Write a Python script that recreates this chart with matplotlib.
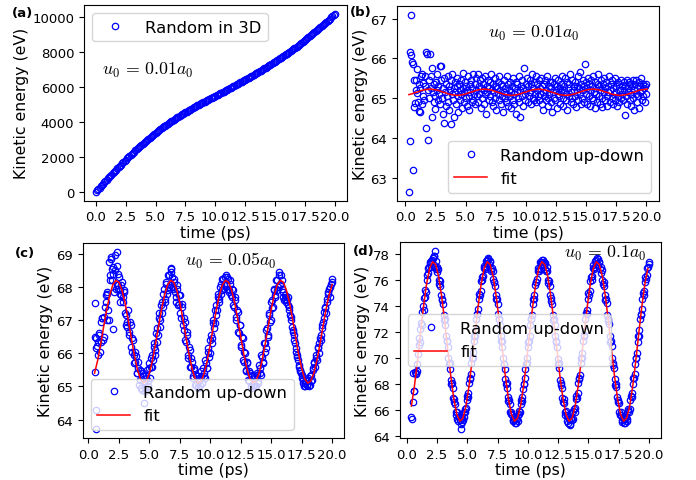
import numpy as np
import matplotlib
matplotlib.use("Agg")
import matplotlib.pyplot as plt

plt.rcParams['mathtext.fontset'] = 'cm'
plt.rcParams['font.family'] = ['DejaVu Sans']

# ---------------- data ----------------
# (a) Random in 3D, t = 0.0 .. 20.0 step 0.1
a_t0, a_dt = 0.0, 0.1
a_ke = [0, 77, 154, 232, 309, 386, 461, 536, 612, 687, 762, 836, 909, 983, 1056, 1130,
        1202, 1273, 1345, 1416, 1488, 1558, 1628, 1698, 1768, 1838, 1906, 1973, 2041, 2108,
        2176, 2240, 2305, 2369, 2434, 2498, 2560, 2621, 2683, 2744, 2806, 2864, 2923, 2981,
        3040, 3098, 3154, 3209, 3265, 3320, 3376, 3429, 3481, 3534, 3586, 3639, 3689, 3739,
        3788, 3838, 3888, 3935, 3982, 4029, 4076, 4123, 4167, 4211, 4256, 4300, 4344, 4385,
        4427, 4468, 4510, 4551, 4591, 4630, 4670, 4709, 4749, 4787, 4826, 4864, 4903, 4941,
        4979, 5016, 5054, 5091, 5129, 5165, 5202, 5238, 5275, 5311, 5347, 5382, 5418, 5453,
        5489, 5524, 5560, 5595, 5631, 5666, 5702, 5738, 5775, 5811, 5847, 5884, 5921, 5958,
        5995, 6032, 6070, 6108, 6145, 6183, 6221, 6260, 6298, 6337, 6375, 6414, 6454, 6493,
        6533, 6572, 6612, 6652, 6693, 6733, 6774, 6814, 6856, 6897, 6939, 6980, 7022, 7064,
        7107, 7149, 7192, 7234, 7278, 7321, 7365, 7408, 7452, 7497, 7542, 7586, 7631, 7676,
        7723, 7770, 7816, 7863, 7910, 7958, 8007, 8055, 8104, 8152, 8202, 8253, 8303, 8354,
        8404, 8456, 8508, 8560, 8612, 8664, 8721, 8778, 8836, 8893, 8950, 9008, 9066, 9124,
        9182, 9240, 9300, 9360, 9420, 9480, 9540, 9602, 9664, 9726, 9788, 9850, 9916, 9982,
        10048, 10114, 10180]

# (b) Random up-down, u0 = 0.01 a0, t = 0.30 .. 20.00 step 0.05
b_t0, b_dt = 0.30, 0.05
b_ke = [62.65, 66.15, 63.92, 67.10, 66.09, 65.90, 63.20, 65.87, 64.77, 65.45, 64.89, 65.45,
        65.20, 65.14, 65.73, 64.90, 65.35, 64.68, 65.25, 64.66, 65.56, 64.85, 65.60, 65.05,
        65.39, 64.95, 65.30, 65.55, 66.16, 64.25, 66.12, 63.96, 65.20, 65.45, 65.00,
        66.10, 65.25, 65.55, 64.54, 65.77, 65.15, 64.90, 65.35, 65.05, 64.74, 65.40, 65.20, 65.60, 64.95, 65.30, 65.10, 65.81, 64.85, 65.45, 65.81,
        65.00, 65.25, 64.60, 65.50, 64.39, 65.15, 65.35, 64.80, 65.05, 65.55, 64.90, 65.30, 64.70, 65.20, 65.45, 64.35, 65.10, 65.60, 64.95, 65.25,
        64.52, 65.40, 65.15, 64.85, 65.30, 65.50, 64.65, 65.05, 65.35, 65.20, 64.95, 65.45, 65.10, 64.75, 65.25, 65.64, 64.90, 65.15, 65.40, 65.00,
        65.30, 64.80, 65.20, 65.55, 65.05, 64.70, 65.35, 65.15, 65.45, 64.90, 65.25, 65.60, 64.95, 65.10, 65.35, 64.85, 65.50, 65.20, 65.05, 65.60,
        64.90, 65.30, 65.10, 65.45, 64.75, 65.25, 65.50, 65.00, 65.35, 64.85, 65.20, 65.55, 65.10, 64.60, 65.30, 65.15, 65.45, 64.95, 65.25, 65.40,
        65.05, 65.60, 64.90, 65.20, 65.35, 64.80, 65.15, 65.50, 65.00, 65.30, 64.70, 65.25, 65.40, 65.10, 64.95, 65.55, 65.20, 64.85, 65.35, 65.05,
        65.30, 64.65, 65.15, 65.45, 65.00, 65.25, 64.90, 65.55, 65.10, 64.80, 65.35, 65.20, 65.05, 65.40, 64.75, 65.15, 65.30, 64.95, 65.50, 65.10,
        64.85, 65.25, 65.40, 64.60, 65.15, 65.35, 65.00, 65.55, 64.90, 65.20, 64.52, 65.30, 65.45, 65.05, 64.80, 65.25, 65.75, 65.10, 64.95, 65.35,
        65.20, 65.50, 64.90, 65.30, 65.05, 65.45, 65.15, 64.85, 65.35, 65.60, 65.00, 65.25, 64.95, 65.40, 65.10, 65.55, 64.90, 65.20, 65.35, 65.05,
        65.45, 64.95, 65.25, 65.10, 65.50, 64.85, 65.30, 65.15, 64.70, 65.35, 65.05, 65.45, 64.95, 65.20, 65.55, 65.00, 64.80, 65.30, 65.10, 65.40,
        64.90, 65.25, 65.40, 64.65, 65.15, 65.35, 65.00, 65.50, 64.95, 65.20, 65.30, 64.75, 65.10, 65.45, 65.05, 65.25, 64.85, 65.35, 65.15, 65.55,
        65.00, 64.80, 65.30, 65.20, 65.50, 64.95, 65.10, 65.40, 64.70, 65.25, 65.05, 65.35, 65.60, 64.90, 65.15, 65.45, 65.00, 64.85, 65.30, 65.20,
        65.40, 65.05, 64.78, 65.30, 65.15, 65.55, 64.95, 65.25, 65.65, 65.10, 64.85, 65.35, 65.00, 65.45, 65.20, 64.90, 65.30, 65.86, 65.10, 65.40,
        64.85, 65.25, 65.50, 65.05, 65.35, 64.80, 65.20, 65.45, 65.00, 65.30, 64.95, 65.55, 65.15, 64.75, 65.40, 65.10, 65.25, 64.90, 65.35, 65.60,
        65.05, 65.30, 64.85, 65.20, 65.45, 65.00, 64.78, 65.35, 65.15, 65.50, 64.95, 65.25, 65.40, 65.05, 64.80, 65.30, 65.15, 65.55, 64.90, 65.20,
        65.35, 65.00, 65.45, 64.85, 65.25, 65.10, 65.50, 64.95, 65.30, 65.15, 64.80, 65.40, 65.05, 65.35, 64.90, 65.20, 65.45, 65.00, 65.30, 65.10,
        64.95, 65.40, 65.20, 64.58, 65.30, 65.05, 65.45, 64.85, 65.25, 65.15, 65.40, 64.95, 65.35, 65.10, 64.80, 65.30, 65.45, 65.00, 65.20, 64.70,
        65.35, 65.10, 65.45, 64.90, 65.25, 65.05, 65.40, 64.75, 65.30, 65.15, 65.50, 64.95, 65.20, 65.35, 65.05, 65.25, 64.90, 65.30, 65.10, 65.35]
# fit for (b), t = 0.30 .. 20.05 step 0.25
b_fit_t0, b_fit_dt = 0.30, 0.25
b_fit = [65.09, 65.11, 65.14, 65.16, 65.19, 65.21, 65.22, 65.23, 65.22, 65.21, 65.19, 65.16, 65.14, 65.11, 65.09, 65.08, 65.07, 65.08,
         65.09, 65.11, 65.14, 65.16, 65.19, 65.21, 65.22, 65.23, 65.22, 65.21, 65.19, 65.16, 65.14, 65.11, 65.09, 65.08, 65.07, 65.08,
         65.09, 65.11, 65.14, 65.16, 65.19, 65.21, 65.22, 65.23, 65.22, 65.21, 65.19, 65.16, 65.14, 65.11, 65.09, 65.08, 65.07, 65.08,
         65.09, 65.11, 65.14, 65.16, 65.19, 65.21, 65.22, 65.23, 65.22, 65.21, 65.19, 65.16, 65.14, 65.11, 65.09, 65.08, 65.07, 65.08,
         65.09, 65.11, 65.14, 65.16, 65.19, 65.21, 65.22, 65.23]

# (c) Random up-down, u0 = 0.05 a0, t = 0.5 .. 20.0 step 0.1
c_t0, c_dt = 0.5, 0.1
c_ke = [65.43, 66.45, 66.22, 65.95, 66.55, 66.35, 67.05, 66.40, 67.08, 67.55, 67.80, 67.30, 68.75, 68.20, 68.55, 68.40, 67.85, 68.50,
        68.62, 67.95, 68.30, 67.80, 68.05, 67.70, 67.92, 67.20, 66.85, 66.80, 66.65, 66.95, 66.20, 66.45, 65.95, 65.75, 65.92, 65.40,
        65.55, 65.20, 65.45, 64.90, 65.30, 64.85, 65.25, 65.50, 65.15, 65.70, 65.60, 65.95, 65.80, 66.30, 66.10, 66.75, 66.55, 67.20,
        67.00, 67.55, 67.40, 67.95, 67.65, 68.15, 67.90, 68.35, 68.05,
        68.55, 68.00, 68.25, 67.85, 67.55, 68.05, 67.50, 67.75, 67.05, 67.40, 66.70, 66.95, 66.35, 66.55, 65.85, 66.10, 65.60, 65.75,
        65.25, 65.50, 65.05, 65.30, 65.00, 65.20, 65.45, 65.10, 65.55, 65.30, 65.80, 65.55, 66.05, 65.90, 66.40, 66.30, 66.90, 66.75,
        67.30, 67.15, 67.70, 67.55, 68.00, 67.80, 68.25, 67.95, 68.30,
        68.05, 68.30, 67.90, 68.20, 67.75, 67.95, 67.45, 67.70, 67.10, 67.30, 66.65, 66.85, 66.25, 66.50, 65.80, 66.05, 65.50, 65.75,
        65.20, 65.45, 65.00, 65.35, 65.05, 65.30, 65.00, 65.40, 65.15, 65.65, 65.40, 65.95, 65.70, 66.30, 66.05, 66.70, 66.50, 67.15,
        66.95, 67.55, 67.35, 67.90, 67.70, 68.20, 67.90, 68.45, 68.05,
        68.35, 67.95, 67.70, 67.65, 67.70, 67.60, 67.45, 67.30, 67.10, 66.80, 66.65, 66.40, 66.15, 65.95, 65.80, 65.60, 65.45, 65.35,
        65.20, 65.00, 65.10, 65.05, 65.25, 65.00, 65.30, 65.15, 65.55, 65.75, 65.60, 65.95, 66.15, 66.00, 66.45, 66.40, 66.85, 67.05,
        67.35, 67.20, 67.65, 67.80, 67.70, 68.10, 68.25]
# (c) samples in between, t = 0.55 .. 19.95 step 0.1
c_mid_t0, c_mid_dt = 0.55, 0.1
c_mid_ke = [66.48, 66.15, 66.35, 66.60, 66.05, 66.95, 67.05, 66.50, 67.40, 67.75, 67.85, 67.00, 68.35, 68.85, 68.20, 68.60, 68.95, 67.95,
            68.05, 68.40, 67.90, 67.75, 68.15, 67.55, 67.85, 67.15, 66.95, 67.30, 66.55, 66.85, 66.05, 66.40, 65.70, 66.05, 65.40, 65.75,
            65.05, 65.50, 64.95, 65.40, 65.15, 64.95, 65.35, 65.00, 65.55, 65.25, 65.85, 65.60, 66.20, 65.95, 66.60, 66.35, 67.05, 66.80,
            67.45, 67.20, 67.80, 67.55, 68.10, 67.80, 68.35, 68.00, 68.45,
            68.30, 67.95, 68.15, 67.70, 67.95, 67.45, 67.75, 67.20, 67.50, 66.85, 67.05, 66.40, 66.65, 65.95, 66.20, 65.60, 65.85, 65.30,
            65.55, 65.05, 65.35, 64.95, 65.25, 65.05, 65.30, 65.10, 65.40, 65.25, 65.70, 65.55, 66.15, 66.00, 66.55, 66.45, 67.00, 66.90,
            67.45, 67.30, 67.80, 67.65, 68.10, 67.90, 68.25, 68.05, 68.35,
            67.95, 68.25, 67.85, 68.10, 67.70, 67.90, 67.40, 67.60, 67.00, 67.25, 66.60, 66.85, 66.20, 66.45, 65.75, 66.00, 65.45, 65.70,
            65.15, 65.40, 64.95, 65.30, 65.05, 65.25, 65.00, 65.35, 65.10, 65.55, 65.35, 65.90, 65.75, 66.30, 66.15, 66.75, 66.55, 67.20,
            67.00, 67.60, 67.40, 67.95, 67.75, 68.20, 68.00, 68.35, 68.10,
            68.20, 67.85, 67.60, 67.75, 67.55, 67.70, 67.40, 67.15, 67.00, 66.70, 66.55, 66.30, 66.05, 65.90, 65.65, 65.50, 65.40, 65.25,
            65.10, 65.00, 65.15, 65.05, 65.20, 65.05, 65.35, 65.20, 65.50, 65.70, 65.85, 65.80, 66.20, 66.30, 66.55, 66.75, 66.95, 67.25,
            67.40, 67.55, 67.85, 67.95, 68.00, 68.15]
c_extra_t = [0.55, 0.6, 0.65, 1.55, 1.85, 2.0, 2.35, 2.45, 2.6, 4.35, 4.55, 6.75]
c_extra_ke = [67.53, 64.28, 63.71, 67.00, 68.90, 66.72, 69.05, 68.05, 67.55, 64.95, 64.50, 68.58]
# fit for (c), t = 0.5 .. 20.0 step 0.25
c_fit_t0, c_fit_dt = 0.5, 0.25
c_fit = [65.40, 65.78, 66.27, 66.81, 67.33, 67.76, 68.07, 68.20, 68.14, 67.90, 67.52, 67.03, 66.49, 65.97, 65.54, 65.23, 65.10, 65.16,
         65.40, 65.78, 66.27, 66.81, 67.33, 67.76, 68.07, 68.20, 68.14, 67.90, 67.52, 67.03, 66.49, 65.97, 65.54, 65.23, 65.10, 65.16,
         65.40, 65.78, 66.27, 66.81, 67.33, 67.76, 68.07, 68.20, 68.14, 67.90, 67.52, 67.03, 66.49, 65.97, 65.54, 65.23, 65.10, 65.16,
         65.40, 65.78, 66.27, 66.81, 67.33, 67.76, 68.07, 68.20, 68.14, 67.90, 67.52, 67.03, 66.49, 65.97, 65.54, 65.23, 65.10, 65.16,
         65.40, 65.78, 66.27, 66.81, 67.33, 67.76, 68.07]

# (d) Random up-down, u0 = 0.1 a0, t = 0.4 .. 20.0 step 0.1
d_t0, d_dt = 0.4, 0.1
d_ke = [65.40, 66.55, 67.45, 68.90, 68.75, 69.50, 70.95, 71.20, 72.65, 73.55, 73.70, 75.20, 75.05, 76.35, 76.90, 77.20, 76.95, 77.55,
        77.65, 77.10, 77.45, 76.60, 76.80, 75.70, 75.55, 74.45, 74.15, 72.90, 72.55, 71.25, 70.85, 69.50, 69.15, 67.95, 67.70, 66.60,
        66.45, 65.60, 65.30, 65.45, 65.20, 65.35, 65.05, 65.40, 66.05, 66.10, 67.05, 67.30, 68.40, 68.75, 69.95, 70.40, 71.70, 72.10,
        73.40, 73.75, 74.90, 75.15, 76.20, 76.30, 77.05, 76.95, 77.50,
        77.70, 77.20, 77.35, 76.65, 76.70, 75.80, 75.50, 74.50, 74.10, 72.95, 72.50, 71.30, 70.80, 69.55, 69.10, 67.95, 67.65, 66.70,
        66.40, 65.65, 65.55, 65.10, 65.25, 64.95, 65.30, 65.60, 65.70, 66.45, 66.65, 67.60, 68.00, 69.15, 69.60, 70.85, 71.30, 72.55,
        72.95, 74.15, 74.50, 75.60, 75.80, 76.70, 76.70, 77.35, 77.20,
        77.55, 77.15, 77.30, 76.70, 76.65, 75.75, 75.55, 74.40, 74.15, 72.90, 72.55, 71.20, 70.85, 69.50, 69.20, 67.90, 67.70, 66.60,
        66.50, 65.55, 65.60, 65.00, 65.30, 64.85, 65.35, 65.25, 66.05, 66.10, 67.05, 67.25, 68.45, 68.70, 70.00, 70.35, 71.75, 72.05,
        73.45, 73.70, 74.95, 75.10, 76.25, 76.30, 77.10, 76.95, 77.55,
        77.65, 77.10, 77.40, 76.55, 76.75, 75.65, 75.55, 74.45, 74.20, 72.85, 72.60, 71.20, 70.90, 69.45, 69.20, 67.90, 67.75, 66.55,
        66.50, 65.60, 65.55, 65.05, 65.30, 64.95, 65.40, 65.30, 66.05, 66.05, 67.05, 67.25, 68.40, 68.75, 70.00, 70.35, 71.70, 72.10,
        73.40, 73.75, 74.95, 75.15, 76.20, 76.35, 76.95, 77.40]
# (d) samples in between, t = 0.45 .. 19.95 step 0.1
d_mid_t0, d_mid_dt = 0.45, 0.1
d_mid_ke = [65.30, 68.85, 67.40, 68.80, 69.00, 70.30, 71.55, 72.20, 72.50, 74.00, 74.60, 74.70, 76.00, 76.55, 76.95, 77.35, 77.45, 77.70,
            77.80, 77.00, 76.80, 76.95, 76.00, 75.90, 74.80, 74.55, 73.30, 72.95, 71.65, 71.25, 69.95, 69.60, 68.30, 68.05, 66.90, 66.80,
            65.80, 65.85, 65.15, 65.40, 64.90, 65.35, 65.20, 65.85, 65.85, 66.75, 66.95, 68.05, 68.35, 69.60, 69.95, 71.25, 71.70, 72.95,
            73.35, 74.55, 74.80, 75.90, 76.00, 76.90, 76.80, 77.45, 77.20,
            77.60, 77.45, 76.80, 76.90, 76.05, 75.85, 74.85, 74.55, 73.35, 72.95, 71.70, 71.25, 69.95, 69.55, 68.35, 68.05, 66.95, 66.75,
            65.85, 65.85, 65.20, 65.40, 64.95, 65.35, 65.15, 65.90, 65.80, 66.75, 66.95, 68.00, 68.40, 69.55, 70.00, 71.20, 71.70, 72.95,
            73.30, 74.55, 74.85, 75.85, 76.05, 76.90, 76.85, 77.40, 77.25,
            77.55, 77.40, 76.85, 76.95, 75.95, 75.90, 74.80, 74.60, 73.30, 72.95, 71.65, 71.30, 69.90, 69.60, 68.30, 68.05, 66.90, 66.80,
            65.80, 65.90, 65.15, 65.40, 64.90, 65.30, 65.20, 65.90, 65.85, 66.80, 66.90, 68.05, 68.35, 69.60, 69.95, 71.25, 71.65, 72.95,
            73.35, 74.50, 74.85, 75.90, 76.00, 76.90, 76.80, 77.45, 77.20,
            77.60, 77.40, 76.80, 76.95, 76.00, 75.85, 74.85, 74.55, 73.30, 72.95, 71.70, 71.25, 69.95, 69.60, 68.35, 68.00, 66.95, 66.75,
            65.85, 65.80, 65.20, 65.40, 64.95, 65.35, 65.15, 65.90, 65.85, 66.75, 66.95, 68.00, 68.40, 69.55, 70.00, 71.20, 71.70, 72.95,
            73.30, 74.55, 74.85, 75.85, 76.05, 76.90, 77.25]
d_extra_t = [2.25, 2.35, 4.5]
d_extra_ke = [77.80, 78.20, 64.50]
# fit for (d), t = 0.4 .. 19.9 step 0.25
d_fit_t0, d_fit_dt = 0.4, 0.25
d_fit = [66.27, 67.81, 69.76, 71.90, 73.94, 75.67, 76.87, 77.39, 77.16, 76.23, 74.69, 72.74, 70.60, 68.56, 66.83, 65.63, 65.11, 65.34,
         66.27, 67.81, 69.76, 71.90, 73.94, 75.67, 76.87, 77.39, 77.16, 76.23, 74.69, 72.74, 70.60, 68.56, 66.83, 65.63, 65.11, 65.34,
         66.27, 67.81, 69.76, 71.90, 73.94, 75.67, 76.87, 77.39, 77.16, 76.23, 74.69, 72.74, 70.60, 68.56, 66.83, 65.63, 65.11, 65.34,
         66.27, 67.81, 69.76, 71.90, 73.94, 75.67, 76.87, 77.39, 77.16, 76.23, 74.69, 72.74, 70.60, 68.56, 66.83, 65.63, 65.11, 65.34,
         66.27, 67.81, 69.76, 71.90, 73.94, 75.67, 76.87]

panel_labels = ['(a)', '(b)', '(c)', '(d)']
annotations = [r'$u_0\,=\,0.01a_0$', r'$u_0\,=\,0.01a_0$', r'$u_0\,=\,0.05a_0$', r'$u_0\,=\,0.1a_0$']


def grid(t0, dt, n):
    return t0 + dt * np.arange(n)


# ---------------- figure ----------------
W, H = 696, 481
fig = plt.figure(figsize=(W / 100, H / 100), dpi=100)


def px_axes(l, t, r, b):
    return fig.add_axes([l / W, 1 - b / H, (r - l) / W, (b - t) / H])


axA = px_axes(84, 6, 346.7, 201.7)
axB = px_axes(397, 6.7, 659, 201.7)
axC = px_axes(82.7, 244.3, 344, 439)
axD = px_axes(399.5, 243.3, 661, 439)

mk = dict(linestyle='none', marker='o', mfc='none', mec='blue', ms=4.6, mew=0.9)
TICK_FS = 9.5
LAB_FS = 11.3
LEG_FS = 11.8
ANN_FS = 12.8

# (a)
axA.plot(grid(a_t0, a_dt, len(a_ke)), a_ke, label='Random in 3D', **mk)
axA.legend(loc='upper left', fontsize=LEG_FS)

# (b)
axB.plot(grid(b_t0, b_dt, len(b_ke)), b_ke, label='Random up-down', **mk)
axB.plot(grid(b_fit_t0, b_fit_dt, len(b_fit)), b_fit, color='red', lw=1.1, label='fit')
axB.legend(loc='lower right', fontsize=LEG_FS)

# (c)
axC.plot(grid(c_t0, c_dt, len(c_ke)), c_ke, label='Random up-down', **mk)
axC.plot(grid(c_mid_t0, c_mid_dt, len(c_mid_ke)), c_mid_ke, **mk)
axC.plot(c_extra_t, c_extra_ke, **mk)
axC.plot(grid(c_fit_t0, c_fit_dt, len(c_fit)), c_fit, color='red', lw=1.1, label='fit')
axC.legend(loc='lower left', fontsize=LEG_FS)

# (d)
axD.plot(grid(d_t0, d_dt, len(d_ke)), d_ke, label='Random up-down', **mk)
axD.plot(grid(d_mid_t0, d_mid_dt, len(d_mid_ke)), d_mid_ke, **mk)
axD.plot(d_extra_t, d_extra_ke, **mk)
axD.plot(grid(d_fit_t0, d_fit_dt, len(d_fit)), d_fit, color='red', lw=1.1, label='fit')
axD.legend(loc='center left', fontsize=LEG_FS)

axA.set_yticks([0, 2000, 4000, 6000, 8000, 10000])
axB.set_yticks([63, 64, 65, 66, 67])
axC.set_yticks([64, 65, 66, 67, 68, 69])
axD.set_yticks([64, 66, 68, 70, 72, 74, 76, 78])

ann_pos = [(0.244, 0.668), (0.523, 0.865), (0.5675, 0.914), (0.786, 0.950)]
lab_pos = [(0.033, 0.971), (0.519, 0.973), (0.036, 0.474), (0.522, 0.478)]
for ax, ann, ap, pl, lp in zip([axA, axB, axC, axD], annotations, ann_pos, panel_labels, lab_pos):
    ax.set_xticks([0, 2.5, 5, 7.5, 10, 12.5, 15, 17.5, 20])
    ax.tick_params(labelsize=TICK_FS)
    ax.set_xlabel('time (ps)', fontsize=LAB_FS, labelpad=1)
    ax.set_ylabel('Kinetic energy (eV)', fontsize=LAB_FS, labelpad=2)
    ax.text(ap[0], ap[1], ann, transform=ax.transAxes, ha='center', va='center', fontsize=ANN_FS)
    fig.text(lp[0], lp[1], pl, ha='center', va='center', fontsize=9.5, fontweight='bold')

fig.savefig('out.png', dpi=100)
